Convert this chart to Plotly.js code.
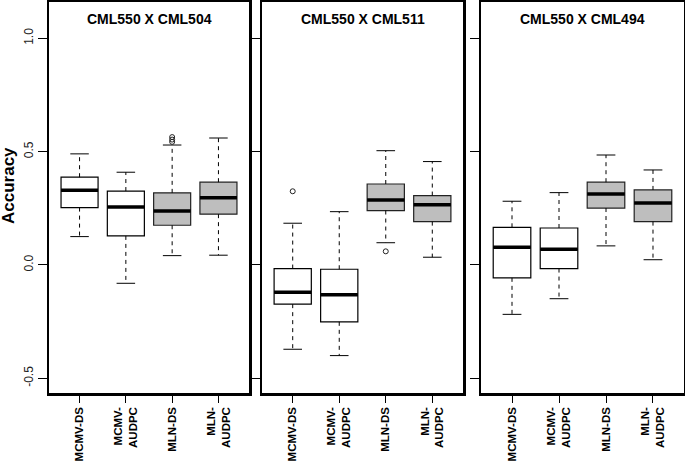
<!DOCTYPE html>
<html>
<head>
<meta charset="utf-8">
<script src="https://cdn.plot.ly/plotly-3.0.1.min.js"></script>
<style>
  html, body { margin: 0; padding: 0; background: #fff; }
  #chart { width: 685px; height: 461px; }
</style>
</head>
<body>
<div id="chart"></div>
<script>
// categories and tick labels
const groups = ['MCMV-DS', 'MCMV-AUDPC', 'MLN-DS', 'MLN-AUDPC'];
const tickLabels = ['MCMV-DS', 'MCMV-<br>AUDPC', 'MLN-DS', 'MLN-<br>AUDPC'];
const panelTitles = ['CML550 X CML504', 'CML550 X CML511', 'CML550 X CML494'];

// CML550 X CML504
const lo504 = [0.125, -0.081, 0.041, 0.043];
const q1_504 = [0.253, 0.128, 0.175, 0.224];
const med504 = [0.329, 0.256, 0.238, 0.296];
const q3_504 = [0.387, 0.326, 0.318, 0.365];
const hi504 = [0.490, 0.409, 0.529, 0.560];
const outX504 = [3, 3, 3];
const outY504 = [0.564, 0.553, 0.543];

// CML550 X CML511
const lo511 = [-0.372, -0.400, 0.098, 0.034];
const q1_511 = [-0.173, -0.251, 0.240, 0.191];
const med511 = [-0.120, -0.132, 0.287, 0.265];
const q3_511 = [-0.016, -0.019, 0.357, 0.306];
const hi511 = [0.184, 0.235, 0.504, 0.456];
const outX511 = [1, 3];
const outY511 = [0.325, 0.060];

// CML550 X CML494
const lo494 = [-0.218, -0.149, 0.084, 0.023];
const q1_494 = [-0.057, -0.016, 0.251, 0.191];
const med494 = [0.078, 0.069, 0.313, 0.273];
const q3_494 = [0.166, 0.163, 0.365, 0.331];
const hi494 = [0.281, 0.319, 0.485, 0.419];
const outX494 = [];
const outY494 = [];

const panels = [
    {lo: lo504, q1: q1_504, med: med504, q3: q3_504, hi: hi504, ox: outX504, oy: outY504},
    {lo: lo511, q1: q1_511, med: med511, q3: q3_511, hi: hi511, ox: outX511, oy: outY511},
    {lo: lo494, q1: q1_494, med: med494, q3: q3_494, hi: hi494, ox: outX494, oy: outY494},
];

const pos = groups.map((g, i) => i + 1);
const fills = ['#ffffff', '#ffffff', '#bebebe', '#bebebe'];
const borders = ['#000000', '#000000', '#222222', '#222222'];
const boxW = 0.8;
const capHalf = 0.2;

const traces = [];
panels.forEach((p, k) => {
    const xa = k === 0 ? 'x' : 'x' + (k + 1);
    const ya = k === 0 ? 'y' : 'y' + (k + 1);

    // dashed whiskers
    const wx = [], wy = [];
    // caps
    const cx = [], cy = [];
    // thick medians
    const mx = [], my = [];
    pos.forEach((x, i) => {
        wx.push(x, x, null, x, x, null);
        wy.push(p.q3[i], p.hi[i], null, p.q1[i], p.lo[i], null);
        cx.push(x - capHalf, x + capHalf, null, x - capHalf, x + capHalf, null);
        cy.push(p.hi[i], p.hi[i], null, p.lo[i], p.lo[i], null);
        mx.push(x - boxW / 2, x + boxW / 2, null);
        my.push(p.med[i], p.med[i], null);
    });
    traces.push({type: 'scatter', mode: 'lines', x: wx, y: wy, xaxis: xa, yaxis: ya,
        line: {color: '#000', width: 1, dash: '4px,4px'}, hoverinfo: 'skip'});
    traces.push({type: 'scatter', mode: 'lines', x: cx, y: cy, xaxis: xa, yaxis: ya,
        line: {color: '#000', width: 1}, hoverinfo: 'skip'});

    pos.forEach((x, i) => {
        traces.push({
            type: 'box',
            x: [x],
            q1: [p.q1[i]],
            median: [p.med[i]],
            q3: [p.q3[i]],
            lowerfence: [p.q1[i]],
            upperfence: [p.q3[i]],
            width: boxW,
            whiskerwidth: 0,
            fillcolor: fills[i],
            line: {color: borders[i], width: 1.2},
            boxpoints: false,
            xaxis: xa, yaxis: ya,
            name: groups[i],
        });
    });

    traces.push({type: 'scatter', mode: 'lines', x: mx, y: my, xaxis: xa, yaxis: ya,
        line: {color: '#000', width: 3.5}, hoverinfo: 'skip'});

    if (p.ox.length) {
        traces.push({type: 'scatter', mode: 'markers', x: p.ox, y: p.oy, xaxis: xa, yaxis: ya,
            marker: {symbol: 'circle-open', size: 5, color: '#222', line: {width: 1}}});
    }
});

const W = 685, H = 461;
const xDomains = [[49 / W, 249 / W], [262 / W, 463 / W], [481 / W, 684 / W]];
const yDomain = [1 - 393 / H, 1 - 2 / H];

const layout = {
    width: W,
    height: H,
    margin: {l: 0, r: 0, t: 0, b: 0},
    paper_bgcolor: '#fff',
    plot_bgcolor: '#fff',
    showlegend: false,
    font: {family: 'Liberation Sans, Arial, sans-serif', color: '#000'},
    annotations: [],
};

xDomains.forEach((d, k) => {
    const sfx = k === 0 ? '' : String(k + 1);
    layout['xaxis' + sfx] = {
        domain: d,
        anchor: 'y' + sfx,
        range: [0.34, 4.66],
        tickvals: pos,
        ticktext: tickLabels,
        tickangle: -90,
        ticks: 'outside',
        ticklen: 7,
        tickwidth: 1,
        tickcolor: '#000',
        tickfont: {size: 11.5, weight: 'bold', color: '#000'},
        showline: true,
        linewidth: 2.5,
        linecolor: '#000',
        mirror: true,
        showgrid: false,
        zeroline: false,
        fixedrange: true,
    };
    layout['yaxis' + sfx] = {
        domain: yDomain,
        anchor: 'x' + sfx,
        range: [-0.565, 1.16],
        tickvals: [-0.5, 0, 0.5, 1],
        ticktext: ['-0.5', '0.0', '0.5', '1.0'],
        showticklabels: k === 0,
        tickangle: -90,
        ticks: 'outside',
        ticklen: 9,
        tickwidth: 1,
        tickcolor: '#000',
        tickfont: {size: 12, color: '#222'},
        showline: true,
        linewidth: 2.5,
        linecolor: '#000',
        mirror: true,
        showgrid: false,
        zeroline: false,
        fixedrange: true,
    };
    layout.annotations.push({
        text: panelTitles[k],
        xref: 'x' + sfx + ' domain',
        yref: 'paper',
        x: 0.5,
        y: 1 - 19 / H,
        showarrow: false,
        font: {size: 14, weight: 'bold', color: '#000'},
        xanchor: 'center',
        yanchor: 'middle',
    });
});

layout.annotations.push({
    text: 'Accuracy',
    xref: 'paper',
    yref: 'paper',
    x: 9 / W,
    y: 1 - 186 / H,
    textangle: -90,
    showarrow: false,
    font: {size: 17, weight: 'bold', color: '#000'},
    xanchor: 'center',
    yanchor: 'middle',
});

Plotly.newPlot('chart', traces, layout, {displayModeBar: false, staticPlot: true});
</script>
</body>
</html>
